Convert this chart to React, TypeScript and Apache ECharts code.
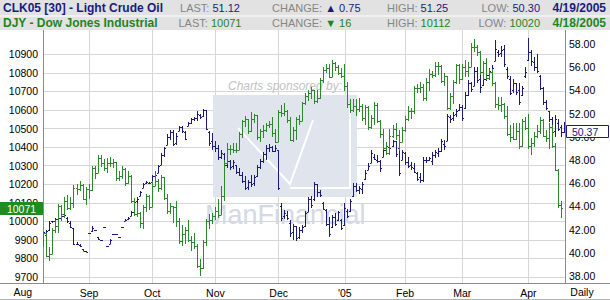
import React, { useEffect, useRef } from 'react';
import * as echarts from 'echarts';

const FONT = "'Liberation Sans', Arial, sans-serif";
const NAVY = '#1b1b7d';
const GREEN = '#2a8a2a';

// trading-day index 0 = Aug 2, 2004; first plotted day = Aug 11, 2004
const firstDay = 7;
const monthStartIdx = [0, 22, 43, 64, 85, 107, 127, 146, 168];
const monthLabels = ['Aug', 'Sep', 'Oct', 'Nov', 'Dec', "'05", 'Feb', 'Mar', 'Apr'];
const djiTicks = [9700, 9800, 9900, 10000, 10100, 10200, 10300, 10400, 10500, 10600, 10700, 10800, 10900];
const oilTicks = [38, 40, 42, 44, 46, 48, 50, 52, 54, 56, 58];
const xRange = [6.7, 180.15];
const djiRange = [9668, 11031];
const oilRange = [37.4, 59.2];

const headerRows = [
  { title: 'CLK05 [30] - Light Crude Oil', last: '51.12', change: '0.75', up: true, high: '51.25', low: '50.30', date: '4/19/2005', color: '#1a1a80' },
  { title: 'DJY - Dow Jones Industrial', last: '10071', change: '16', up: false, high: '10112', low: '10020', date: '4/18/2005', color: '#1c871c' },
];

// Dow Jones Industrial (Aug 11 2004 - Apr 18 2005)
const djiOpen = [
  9944, 9938, 9815, 9825, 9955, 9973, 10083, 10041, 10110, 10073, 10099, 10182, 10173, 10195, 10123,
  10174, 10168, 10290, 10260, 10341, 10313, 10289, 10313, 10315, 10318, 10231, 10244, 10284, 10205, 10245, 10109, 10039, 10047, 9989, 10077, 10136,
  10080, 10193, 10217, 10178, 10240, 10125, 10055, 10082, 10077, 10002, 9894, 9933, 9956, 9898, 9887, 9866, 9758, 9750, 9888, 10002, 10005,
  10027, 10054, 10036, 10137, 10315, 10388, 10391, 10386, 10385, 10470, 10539, 10550, 10488, 10550, 10573, 10457, 10489, 10493, 10520, 10522, 10476,
  10428, 10590, 10585, 10592, 10547, 10441, 10494, 10553, 10543, 10638, 10676, 10691, 10706, 10650, 10662, 10759, 10816, 10827, 10776, 10855, 10829, 10800,
  10783, 10729, 10631, 10598, 10623, 10604, 10621, 10556, 10618, 10506, 10558, 10629, 10540, 10471, 10393, 10369, 10462, 10499, 10467, 10427,
  10490, 10552, 10597, 10593, 10716, 10716, 10725, 10664, 10750, 10796, 10791, 10837, 10835, 10754, 10785, 10611, 10674, 10749, 10842,
  10766, 10830, 10812, 10833, 10941, 10937, 10913, 10806, 10852, 10774, 10805, 10745, 10633, 10626, 10630, 10565, 10471, 10456, 10443, 10486, 10406, 10541,
  10504, 10404, 10421, 10458, 10486, 10546, 10461, 10449, 10508, 10404, 10279, 10088,
];
const djiHigh = [
  9950, 9940, 9860, 9965, 10010, 10095, 10090, 10130, 10140, 10130, 10195, 10200, 10215, 10200, 10185,
  10200, 10300, 10300, 10360, 10355, 10335, 10340, 10345, 10335, 10320, 10270, 10300, 10285, 10270, 10250, 10125, 10100, 10050, 10090, 10150, 10140,
  10215, 10270, 10230, 10250, 10240, 10150, 10100, 10085, 10110, 10020, 9980, 9970, 10010, 9920, 9940, 9880, 9795, 9900, 10015, 10040, 10045,
  10075, 10120, 10190, 10330, 10420, 10410, 10420, 10420, 10480, 10545, 10570, 10550, 10590, 10580, 10575, 10500, 10520, 10530, 10540, 10560, 10500,
  10600, 10625, 10640, 10600, 10560, 10510, 10560, 10575, 10645, 10690, 10710, 10725, 10710, 10710, 10770, 10830, 10850, 10850, 10868, 10860, 10845, 10825,
  10850, 10750, 10660, 10660, 10660, 10665, 10630, 10625, 10620, 10575, 10645, 10640, 10545, 10495, 10430, 10500, 10520, 10530, 10490, 10510,
  10570, 10620, 10610, 10730, 10740, 10750, 10740, 10770, 10820, 10810, 10860, 10860, 10840, 10800, 10785, 10690, 10760, 10850, 10850,
  10850, 10870, 10860, 10960, 10984, 10950, 10920, 10865, 10880, 10820, 10820, 10750, 10670, 10670, 10640, 10620, 10520, 10530, 10530, 10530, 10550, 10560,
  10580, 10450, 10480, 10520, 10560, 10550, 10490, 10530, 10520, 10420, 10280, 10112,
];
const djiLow = [
  9860, 9810, 9785, 9825, 9940, 9940, 10000, 10020, 10060, 10060, 10070, 10140, 10165, 10115, 10090,
  10120, 10165, 10230, 10260, 10295, 10270, 10260, 10295, 10285, 10215, 10220, 10230, 10190, 10200, 10100, 10030, 10025, 9965, 9960, 10050, 10060,
  10080, 10190, 10160, 10170, 10115, 10040, 10040, 9990, 9970, 9880, 9870, 9880, 9890, 9840, 9850, 9750, 9708, 9745, 9870, 9960, 9985,
  10005, 10020, 10036, 10110, 10310, 10360, 10370, 10370, 10385, 10450, 10510, 10470, 10480, 10530, 10440, 10430, 10450, 10480, 10505, 10455, 10420,
  10425, 10560, 10570, 10530, 10435, 10430, 10440, 10520, 10540, 10625, 10650, 10660, 10630, 10640, 10660, 10745, 10800, 10770, 10776, 10810, 10790, 10775,
  10700, 10610, 10585, 10590, 10570, 10590, 10540, 10520, 10490, 10500, 10520, 10530, 10450, 10385, 10360, 10360, 10450, 10440, 10380, 10425,
  10480, 10540, 10550, 10580, 10690, 10690, 10650, 10650, 10700, 10770, 10780, 10790, 10745, 10730, 10600, 10600, 10630, 10740, 10740,
  10760, 10780, 10780, 10830, 10910, 10890, 10790, 10760, 10760, 10760, 10730, 10610, 10600, 10590, 10550, 10460, 10430, 10440, 10440, 10390, 10400, 10490,
  10390, 10360, 10400, 10450, 10470, 10455, 10430, 10390, 10395, 10270, 10070, 10020,
];
const djiClose = [
  9938, 9815, 9825, 9955, 9973, 10083, 10041, 10110, 10073, 10099, 10182, 10173, 10195, 10123, 10174,
  10168, 10290, 10260, 10341, 10313, 10289, 10313, 10315, 10318, 10231, 10244, 10284, 10205, 10245, 10109, 10039, 10047, 9989, 10077, 10136, 10080,
  10193, 10217, 10178, 10240, 10125, 10055, 10082, 10077, 10002, 9894, 9933, 9956, 9898, 9887, 9866, 9758, 9750, 9888, 10002, 10005, 10027,
  10054, 10036, 10137, 10315, 10388, 10391, 10386, 10385, 10470, 10539, 10550, 10488, 10550, 10573, 10457, 10489, 10493, 10520, 10522, 10476, 10428,
  10590, 10585, 10592, 10547, 10441, 10494, 10553, 10543, 10638, 10676, 10691, 10706, 10650, 10662, 10759, 10816, 10827, 10776, 10855, 10829, 10800, 10783,
  10729, 10631, 10598, 10623, 10604, 10621, 10556, 10618, 10506, 10558, 10629, 10540, 10471, 10393, 10369, 10462, 10499, 10467, 10427, 10490,
  10552, 10597, 10593, 10716, 10716, 10725, 10664, 10750, 10796, 10791, 10837, 10835, 10754, 10785, 10611, 10674, 10749, 10842, 10766,
  10830, 10812, 10833, 10941, 10937, 10913, 10806, 10852, 10774, 10805, 10745, 10633, 10626, 10630, 10565, 10471, 10456, 10443, 10486, 10406, 10541, 10504,
  10404, 10421, 10458, 10486, 10546, 10461, 10449, 10508, 10404, 10279, 10088, 10071,
];

// Light crude oil CLK05 (Aug 11 2004 - Apr 19 2005)
const oilOpen = [
  41.6, 41.5, 42.0, 42.7, 42.7, 42.9, 43.0, 43.2, 43.0, 42.6, 42.1, 40.8, 40.7, 40.3, 40.2,
  41.7, 41.9, 42.0, 41.4, 41.1, 42.2, 40.6, 40.8, 41.6, 41.6, 41.4, 42.2, 42.7, 42.9, 43.2, 43.5, 44.5, 44.9, 45.6, 46.0, 46.0,
  46.1, 46.6, 46.9, 47.6, 48.4, 49.3, 50.0, 50.4, 49.5, 50.5, 50.8, 50.4, 50.9, 51.2, 51.5, 51.6, 51.9, 51.8, 52.3, 50.4, 49.6,
  49.2, 49.0, 48.3, 48.5, 47.6, 47.9, 47.5, 47.6, 47.0, 46.7, 46.2, 45.7, 46.1, 46.0, 46.6, 47.4, 47.9, 48.5, 49.0, 49.1, 48.8,
  48.9, 44.0, 43.2, 43.3, 42.6, 41.8, 42.3, 41.4, 42.0, 42.3, 43.5, 44.6, 44.6, 45.9, 45.2, 44.3, 43.7, 42.5, 42.2, 43.1, 42.8, 42.8,
  42.4, 43.6, 43.6, 44.9, 45.8, 45.4, 45.5, 46.4, 47.1, 47.7, 48.3, 48.0, 47.9, 48.3, 48.9, 49.1, 49.2, 49.6, 49.0, 48.0,
  48.6, 47.8, 47.6, 47.3, 46.9, 46.5, 46.3, 48.0, 48.0, 47.9, 48.4, 48.6, 48.8, 49.4, 49.6, 51.7, 51.6, 52.0, 52.3,
  52.6, 52.5, 53.6, 54.6, 54.4, 55.7, 55.0, 54.5, 55.0, 55.3, 55.6, 56.5, 57.3, 57.2, 57.6, 55.8, 55.0, 54.0, 54.6, 54.0, 53.6, 55.2,
  56.6, 57.3, 56.4, 56.0, 55.2, 54.2, 53.0, 52.2, 51.5, 50.5, 51.2, 50.8, 50.4,
];
const oilHigh = [
  41.9, 42.0, 42.7, 42.7, 43.0, 43.1, 43.3, 43.4, 43.1, 42.7, 42.1, 40.9, 40.8, 40.3, 40.2,
  41.7, 42.3, 42.0, 41.4, 41.1, 42.2, 40.6, 41.2, 41.6, 41.6, 41.4, 42.2, 42.9, 43.1, 43.6, 44.6, 44.8, 45.3, 46.0, 46.2, 46.1,
  46.7, 46.8, 47.6, 48.6, 49.1, 50.2, 50.6, 50.6, 50.3, 50.9, 50.9, 50.5, 51.3, 51.6, 51.7, 52.2, 52.0, 52.4, 52.3, 50.5, 50.3,
  49.6, 49.3, 48.9, 48.6, 48.1, 48.0, 48.0, 47.6, 47.3, 47.0, 46.6, 46.3, 46.7, 46.7, 47.6, 48.1, 48.7, 49.3, 49.4, 49.2, 49.3,
  48.9, 44.3, 43.7, 43.6, 42.8, 42.5, 42.3, 42.2, 42.4, 43.6, 44.8, 44.9, 46.1, 45.9, 45.4, 44.4, 43.8, 43.1, 43.3, 43.4, 43.6, 42.9,
  44.3, 43.8, 44.6, 46.0, 46.0, 45.8, 46.1, 47.1, 47.7, 48.9, 48.5, 48.4, 48.0, 49.1, 49.4, 49.5, 49.7, 49.6, 49.2, 48.9,
  48.7, 48.3, 47.8, 47.7, 47.0, 46.9, 48.3, 48.3, 48.3, 48.7, 48.9, 49.0, 49.8, 49.7, 52.0, 51.9, 52.1, 52.4, 52.8,
  52.7, 53.9, 54.9, 54.7, 56.0, 56.0, 55.8, 55.2, 55.5, 55.9, 56.2, 58.3, 57.5, 57.8, 57.9, 56.0, 55.2, 55.0, 54.6, 54.6, 54.4, 56.0,
  58.5, 57.5, 56.9, 57.1, 55.3, 54.3, 53.2, 52.2, 51.7, 51.9, 51.5, 51.0, 51.25,
];
const oilLow = [
  41.4, 41.1, 41.9, 42.6, 42.6, 42.8, 42.9, 43.1, 42.6, 42.1, 40.7, 40.7, 40.5, 40.2, 40.1,
  41.7, 41.8, 42.0, 41.1, 41.1, 42.2, 40.6, 40.8, 41.6, 41.6, 41.4, 42.2, 42.7, 42.8, 43.2, 43.5, 44.3, 44.9, 45.6, 45.9, 45.9,
  46.0, 46.5, 46.9, 47.6, 48.3, 49.3, 49.7, 49.2, 49.3, 50.5, 50.3, 49.7, 50.9, 51.1, 51.4, 51.4, 51.5, 51.7, 50.6, 49.2, 48.9,
  48.7, 48.0, 48.1, 47.4, 47.3, 47.1, 47.2, 46.8, 46.6, 46.0, 45.4, 45.4, 45.7, 45.8, 46.5, 47.2, 47.7, 48.0, 48.7, 48.7, 48.7,
  45.4, 42.7, 42.9, 42.8, 41.4, 41.1, 41.0, 41.2, 41.7, 42.2, 43.5, 43.9, 44.5, 44.8, 44.8, 43.7, 42.3, 41.4, 42.1, 42.3, 42.7, 42.0,
  42.3, 43.0, 43.5, 44.8, 45.2, 45.1, 45.1, 46.3, 47.1, 47.7, 48.0, 47.7, 47.0, 48.3, 48.7, 48.8, 49.1, 48.3, 46.6, 48.0,
  47.6, 47.3, 47.1, 46.9, 46.2, 46.0, 46.1, 47.7, 47.9, 47.6, 48.2, 48.3, 48.7, 48.9, 49.6, 51.2, 51.4, 51.7, 52.2,
  51.4, 52.4, 53.5, 53.9, 54.4, 54.6, 53.8, 54.4, 54.8, 55.2, 55.3, 56.5, 56.9, 56.9, 56.0, 55.0, 53.6, 53.8, 53.6, 52.7, 53.5, 55.1,
  56.5, 56.1, 55.7, 55.5, 54.0, 52.7, 52.3, 51.3, 50.2, 50.0, 50.5, 50.0, 50.3,
];
const oilClose = [
  41.8, 41.9, 42.6, 42.7, 42.9, 43.0, 43.2, 43.3, 42.7, 42.2, 40.8, 40.8, 40.6, 40.2, 40.1,
  41.7, 42.1, 42.0, 41.2, 41.1, 42.2, 40.6, 41.1, 41.6, 41.6, 41.4, 42.2, 42.8, 43.0, 43.5, 44.4, 44.6, 45.2, 45.9, 46.1, 46.0,
  46.6, 46.7, 47.5, 48.4, 49.0, 50.0, 50.4, 49.4, 50.1, 50.8, 50.5, 49.8, 51.2, 51.5, 51.6, 52.0, 51.7, 52.3, 50.7, 49.5, 49.2,
  49.0, 48.3, 48.6, 47.6, 47.9, 47.4, 47.8, 47.0, 46.7, 46.2, 45.6, 46.1, 45.9, 46.5, 47.4, 47.9, 48.5, 49.0, 49.1, 48.8, 49.0,
  45.6, 43.0, 43.4, 43.0, 41.7, 42.3, 41.3, 42.0, 42.2, 43.4, 44.6, 44.1, 45.9, 45.2, 45.0, 43.8, 42.5, 41.6, 43.1, 42.5, 43.5, 42.1,
  43.9, 43.2, 44.5, 45.8, 45.4, 45.6, 45.9, 46.9, 47.5, 48.6, 48.1, 47.9, 47.3, 48.9, 49.2, 49.0, 49.6, 48.5, 46.9, 48.7,
  47.8, 47.5, 47.4, 47.0, 46.4, 46.3, 48.0, 48.0, 48.2, 48.4, 48.7, 48.8, 49.6, 49.2, 51.8, 51.5, 51.9, 52.2, 52.6,
  51.6, 53.6, 54.6, 54.1, 55.7, 54.9, 54.3, 55.0, 55.3, 55.7, 55.9, 57.6, 57.1, 57.5, 56.3, 55.2, 53.8, 54.6, 53.9, 53.0, 54.2, 55.6,
  57.3, 56.5, 56.0, 55.7, 54.2, 53.0, 52.5, 51.5, 50.4, 51.5, 50.7, 50.37, 51.12,
];

function buildBars(o: number[], h: number[], l: number[], c: number[]) {
  const n = Math.min(o.length, h.length, l.length, c.length);
  const out: number[][] = [];
  for (let k = 0; k < n; k++) out.push([firstDay + k, o[k], h[k], l[k], c[k]]);
  return out;
}

function makeRender(color: string) {
  return (params: any, api: any) => {
    const x = api.value(0);
    const ph = api.coord([x, api.value(2)]);
    const pl = api.coord([x, api.value(3)]);
    const po = api.coord([x, api.value(1)]);
    const pc = api.coord([x, api.value(4)]);
    const cx = Math.floor(ph[0]) + 0.5;
    const yTop = Math.round(ph[1]);
    let yBot = Math.round(pl[1]);
    if (yBot <= yTop) yBot = yTop + 1;
    const yo = Math.round(po[1]) + 0.5;
    const yc = Math.round(pc[1]) + 0.5;
    const style = { stroke: color, lineWidth: 1, fill: null };
    return {
      type: 'group',
      children: [
        { type: 'line', shape: { x1: cx, y1: yTop, x2: cx, y2: yBot }, style },
        { type: 'line', shape: { x1: cx - 1.5, y1: yo, x2: cx, y2: yo }, style },
        { type: 'line', shape: { x1: cx, y1: yc, x2: cx + 1.5, y2: yc }, style },
      ],
    };
  };
}

function richText(x: number, y: number, align: string, label: string, value: string, color: string) {
  return {
    type: 'text', x, y, z: 21,
    style: {
      text: `{l|${label}} {v|${value}}`,
      align, verticalAlign: 'middle', fontSize: 11, fontFamily: FONT, fill: '#868686',
      rich: {
        l: { fill: '#868686', fontSize: 11, fontFamily: FONT },
        v: { fill: color, fontSize: 11, fontFamily: FONT },
      },
    },
  };
}

export default function App() {
  const ref = useRef<HTMLDivElement>(null);
  useEffect(() => {
    if (!ref.current) return;
    const chart = echarts.init(ref.current, null, { renderer: 'svg' });
    const axisFont = { color: '#000', fontSize: 10.5, fontFamily: FONT };
    chart.setOption({
      animation: false,
      backgroundColor: '#ffffff',
      grid: { left: 43, right: 45, top: 30, bottom: 17, outerBoundsMode: 'none', containLabel: false },
      xAxis: {
        type: 'value', min: xRange[0], max: xRange[1],
        axisLine: { show: false },
        axisTick: { show: false, customValues: monthStartIdx.slice(1) },
        axisLabel: {
          ...axisFont, margin: 4,
          customValues: monthStartIdx.slice(1),
          formatter: (v: number) => monthLabels[monthStartIdx.indexOf(Math.round(v))] ?? '',
        },
        splitLine: { show: true, lineStyle: { color: '#d6d6d6', width: 1 } },
      },
      yAxis: [
        {
          type: 'value', position: 'left', min: djiRange[0], max: djiRange[1],
          axisLine: { show: true, lineStyle: { color: '#8c8c8c' } },
          axisTick: { show: false, customValues: djiTicks },
          axisLabel: { ...axisFont, margin: 5, customValues: djiTicks, formatter: (v: number) => String(v) },
          splitLine: { show: true, lineStyle: { color: '#d6d6d6', width: 1 } },
        },
        {
          type: 'value', position: 'right', min: oilRange[0], max: oilRange[1],
          axisLine: { show: true, lineStyle: { color: '#8c8c8c' } },
          axisTick: { show: false, customValues: oilTicks },
          axisLabel: { ...axisFont, margin: 4, customValues: oilTicks, formatter: (v: number) => v.toFixed(2) },
          splitLine: { show: false },
        },
      ],
      series: [
        {
          type: 'custom', name: 'CLK05', xAxisIndex: 0, yAxisIndex: 1,
          data: buildBars(oilOpen, oilHigh, oilLow, oilClose),
          encode: { x: 0, y: [1, 2, 3, 4] },
          renderItem: makeRender(NAVY), clip: true, silent: true, z: 3,
        },
        {
          type: 'custom', name: 'DJY', xAxisIndex: 0, yAxisIndex: 0,
          data: buildBars(djiOpen, djiHigh, djiLow, djiClose),
          encode: { x: 0, y: [1, 2, 3, 4] },
          renderItem: makeRender(GREEN), clip: true, silent: true, z: 4,
        },
      ],
    });

    const lastIdx = djiClose.length - 1;
    const lastDji = djiClose[lastIdx];
    const oilSameDay = oilClose[lastIdx];
    const yDji = chart.convertToPixel({ yAxisIndex: 0 } as any, lastDji) as number;
    const yOil = chart.convertToPixel({ yAxisIndex: 1 } as any, oilSameDay) as number;
    const xAug = chart.convertToPixel({ xAxisIndex: 0 } as any, monthStartIdx[0]) as number;

    const g: any[] = [];
    // header
    headerRows.forEach((r, k) => {
      const yTop = k === 0 ? 0 : 16.5;
      const h = k === 0 ? 15.5 : 13.5;
      const cy = k === 0 ? 8 : 23.3;
      g.push({ type: 'rect', z: 20, shape: { x: 0, y: yTop, width: 610, height: h }, style: { fill: '#e2e2e2' } });
      g.push({ type: 'text', x: 3, y: cy, z: 21, style: { text: r.title, fill: r.color, fontSize: 12, fontWeight: 'bold', fontFamily: FONT, verticalAlign: 'middle', align: 'left' } });
      g.push(richText(210, cy, 'center', 'LAST:', r.last, r.color));
      g.push(richText(272, cy, 'left', 'CHANGE:', `${r.up ? '\u25B2' : '\u25BC'} ${r.change}`, r.color));
      g.push(richText(387, cy, 'left', 'HIGH:', r.high, r.color));
      g.push(richText(540, cy, 'right', 'LOW:', r.low, r.color));
      g.push({ type: 'text', x: 606, y: cy, z: 21, style: { text: r.date, fill: r.color, fontSize: 12, fontWeight: 'bold', fontFamily: FONT, verticalAlign: 'middle', align: 'right' } });
    });
    // watermark
    g.push({ type: 'rect', z: 1, shape: { x: 213, y: 95, width: 144, height: 102 }, style: { fill: '#e0e4ed' } });
    g.push({ type: 'polyline', z: 1, shape: { points: [[238, 128], [290, 184], [313, 120]] }, style: { stroke: '#ffffff', lineWidth: 2, fill: null } });
    g.push({ type: 'polyline', z: 1, shape: { points: [[290, 188], [350, 188], [350, 108]] }, style: { stroke: '#ffffff', lineWidth: 2, fill: null } });
    g.push({ type: 'text', x: 228, y: 86, z: 1, style: { text: 'Charts sponsored by:', fill: '#c2c2c2', fontSize: 12, fontStyle: 'italic', fontFamily: FONT, verticalAlign: 'middle' } });
    g.push({ type: 'text', x: 205, y: 215, z: 1, style: { text: 'ManFinancial', fill: '#d3d9e6', fontSize: 27, fontFamily: FONT, verticalAlign: 'middle' } });
    // axis frame lines
    g.push({ type: 'line', z: 5, shape: { x1: 0, y1: 283.5, x2: 610, y2: 283.5 }, style: { stroke: '#8c8c8c', lineWidth: 1 } });
    g.push({ type: 'line', z: 5, shape: { x1: 0, y1: 299.5, x2: 610, y2: 299.5 }, style: { stroke: '#b4b4b4', lineWidth: 1 } });
    g.push({ type: 'text', x: xAug, y: 292, z: 5, style: { text: monthLabels[0], fill: '#000', fontSize: 10.5, fontFamily: FONT, align: 'center', verticalAlign: 'middle' } });
    g.push({ type: 'text', x: 582, y: 292, z: 5, style: { text: 'Daily', fill: '#000', fontSize: 10.5, fontFamily: FONT, align: 'center', verticalAlign: 'middle' } });
    // last-value markers
    g.push({ type: 'rect', z: 10, shape: { x: 0, y: Math.round(yDji) - 6, width: 43, height: 13 }, style: { fill: '#1e8c1e' } });
    g.push({ type: 'text', x: 21.5, y: Math.round(yDji) + 0.5, z: 11, style: { text: String(lastDji), fill: '#ffffff', fontSize: 10.5, fontFamily: FONT, align: 'center', verticalAlign: 'middle' } });
    g.push({ type: 'rect', z: 10, shape: { x: 566.5, y: Math.round(yOil) - 6.5, width: 42, height: 12 }, style: { fill: '#ffffff', stroke: NAVY, lineWidth: 1 } });
    g.push({ type: 'text', x: 572, y: Math.round(yOil) - 0.5, z: 11, style: { text: oilSameDay.toFixed(2), fill: NAVY, fontSize: 10.5, fontFamily: FONT, align: 'left', verticalAlign: 'middle' } });

    chart.setOption({ graphic: g });
    return () => chart.dispose();
  }, []);
  return <div ref={ref} style={{ position: 'fixed', left: 0, top: 0, width: 610, height: 300, background: '#fff' }} />;
}
